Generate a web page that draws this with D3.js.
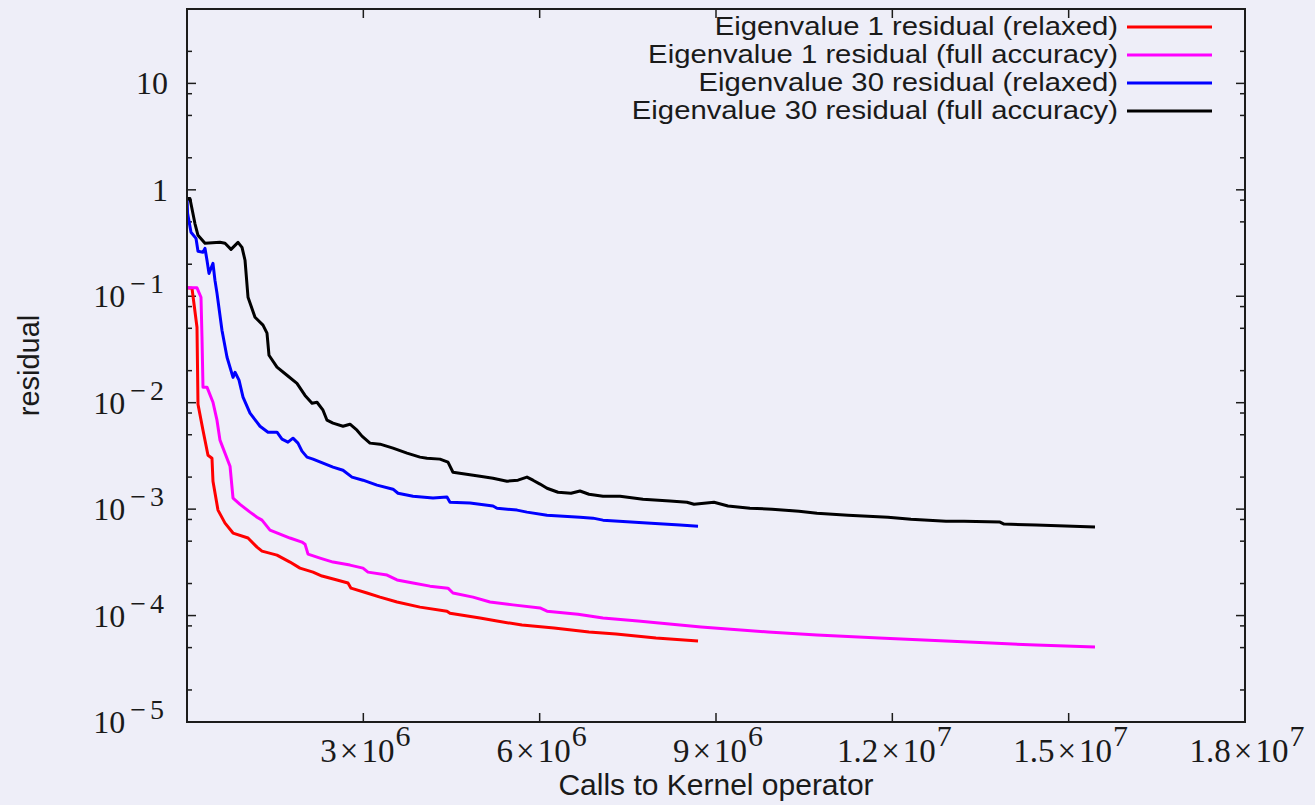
<!DOCTYPE html>
<html><head><meta charset="utf-8">
<script src="https://cdn.jsdelivr.net/npm/d3@7"></script>
<style>
html,body{margin:0;padding:0;background:#eeeef8;overflow:hidden;}
svg{display:block;}
</style></head><body>
<svg id="chart" width="1315" height="805"></svg>
<script>
// ---------- data ----------
const seriesNames = [
  "Eigenvalue 1 residual (relaxed)",
  "Eigenvalue 1 residual (full accuracy)",
  "Eigenvalue 30 residual (relaxed)",
  "Eigenvalue 30 residual (full accuracy)"
];
const seriesColors = ["#ff0000", "#ff00ff", "#0000ff", "#000000"];

// [calls to kernel operator, residual]
const eig1Relaxed = [
  [0, 0.12], [0.085e6, 0.119], [0.17e6, 0.0512], [0.187e6, 0.00968], [0.272e6, 0.00552],
  [0.357e6, 0.00321], [0.425e6, 0.00301], [0.442e6, 0.00183], [0.527e6, 0.000979],
  [0.647e6, 0.000739], [0.783e6, 0.000596], [1.038e6, 0.000535], [1.191e6, 0.00044],
  [1.276e6, 0.000403], [1.531e6, 0.00037], [1.752e6, 0.000318], [1.922e6, 0.000279],
  [2.144e6, 0.000256], [2.297e6, 0.000235], [2.552e6, 0.000216], [2.739e6, 0.000202],
  [2.79e6, 0.000181], [3.062e6, 0.000163], [3.284e6, 0.000149], [3.573e6, 0.000134],
  [3.964e6, 0.00012], [4.423e6, 0.00011], [4.474e6, 0.000105], [4.985e6, 0.0000947],
  [5.274e6, 0.0000888], [5.699e6, 0.0000814], [6.244e6, 0.0000764], [6.839e6, 0.00007],
  [7.299e6, 0.000067], [7.979e6, 0.0000615], [8.694e6, 0.0000576]
];
const eig1Full = [
  [0, 0.12], [0.17e6, 0.12], [0.238e6, 0.0979], [0.255e6, 0.0412], [0.272e6, 0.014],
  [0.34e6, 0.014], [0.442e6, 0.0101], [0.51e6, 0.00685], [0.561e6, 0.00445],
  [0.732e6, 0.00253], [0.783e6, 0.00127], [0.902e6, 0.00111], [1.072e6, 0.000937],
  [1.191e6, 0.00084], [1.276e6, 0.000788], [1.412e6, 0.000635], [1.582e6, 0.000582],
  [1.752e6, 0.000535], [1.956e6, 0.00049], [2.008e6, 0.000469], [2.059e6, 0.000378],
  [2.263e6, 0.000347], [2.484e6, 0.000318], [2.773e6, 0.000298], [2.994e6, 0.000279],
  [3.079e6, 0.000256], [3.403e6, 0.00024], [3.573e6, 0.000216], [3.845e6, 0.000202],
  [4.134e6, 0.000189], [4.44e6, 0.000181], [4.525e6, 0.000163], [4.866e6, 0.000149],
  [5.155e6, 0.000134], [5.546e6, 0.000126], [6.006e6, 0.000118], [6.125e6, 0.00011],
  [6.652e6, 0.000103], [7.077e6, 0.0000947], [7.673e6, 0.0000888], [8.745e6, 0.000078],
  [9.885e6, 0.00007], [10.718e6, 0.0000656], [11.773e6, 0.0000615], [12.913e6, 0.0000576],
  [13.678e6, 0.0000552], [14.444e6, 0.0000528], [15.448e6, 0.0000506]
];
const eig30Relaxed = [
  [0, 0.85], [0.01e6, 0.602], [0.068e6, 0.399], [0.153e6, 0.35], [0.187e6, 0.265],
  [0.272e6, 0.259], [0.306e6, 0.282], [0.34e6, 0.218], [0.374e6, 0.164], [0.442e6, 0.204],
  [0.476e6, 0.141], [0.51e6, 0.107], [0.595e6, 0.048], [0.681e6, 0.0267], [0.783e6, 0.0173],
  [0.817e6, 0.0193], [0.885e6, 0.0163], [0.953e6, 0.0113], [1.072e6, 0.00797],
  [1.242e6, 0.00601], [1.378e6, 0.00528], [1.531e6, 0.00528], [1.616e6, 0.00454],
  [1.718e6, 0.00426], [1.803e6, 0.00464], [1.888e6, 0.00417], [1.956e6, 0.00351],
  [2.042e6, 0.00308], [2.144e6, 0.00295], [2.314e6, 0.0027], [2.484e6, 0.00248],
  [2.654e6, 0.00232], [2.807e6, 0.002], [2.994e6, 0.00187], [3.232e6, 0.00168],
  [3.505e6, 0.00154], [3.59e6, 0.00141], [3.845e6, 0.00132], [4.185e6, 0.00127],
  [4.423e6, 0.0013], [4.474e6, 0.00116], [4.815e6, 0.00114], [5.206e6, 0.00107],
  [5.274e6, 0.00102], [5.614e6, 0.000979], [5.784e6, 0.000937], [6.125e6, 0.000878],
  [6.686e6, 0.00084], [6.907e6, 0.000823], [7.077e6, 0.000788], [7.826e6, 0.000739],
  [8.387e6, 0.000708], [8.694e6, 0.000692]
];
const eig30Full = [
  [0.005e6, 0.83], [0.05e6, 0.83], [0.136e6, 0.48], [0.187e6, 0.374], [0.306e6, 0.315],
  [0.561e6, 0.321], [0.647e6, 0.315], [0.749e6, 0.276], [0.868e6, 0.321], [0.936e6, 0.288],
  [0.987e6, 0.218], [1.038e6, 0.098], [1.157e6, 0.0635], [1.293e6, 0.0535], [1.361e6, 0.045],
  [1.395e6, 0.0279], [1.531e6, 0.0216], [1.701e6, 0.0181], [1.871e6, 0.0152],
  [2.008e6, 0.0117], [2.127e6, 0.00989], [2.212e6, 0.0101], [2.314e6, 0.0085],
  [2.382e6, 0.00685], [2.484e6, 0.00642], [2.654e6, 0.00601], [2.773e6, 0.00628],
  [2.892e6, 0.00552], [2.977e6, 0.00485], [3.113e6, 0.00417], [3.284e6, 0.00408],
  [3.505e6, 0.00374], [3.743e6, 0.00336], [3.964e6, 0.00308], [4.083e6, 0.00301],
  [4.304e6, 0.00295], [4.44e6, 0.00276], [4.525e6, 0.00222], [4.985e6, 0.00204],
  [5.206e6, 0.00195], [5.444e6, 0.00183], [5.631e6, 0.00187], [5.784e6, 0.002],
  [5.886e6, 0.00187], [6.006e6, 0.00172], [6.125e6, 0.00157], [6.312e6, 0.00144],
  [6.533e6, 0.00141], [6.686e6, 0.00148], [6.839e6, 0.00138], [7.077e6, 0.00132],
  [7.367e6, 0.00132], [7.758e6, 0.00124], [8.217e6, 0.00119], [8.506e6, 0.00116],
  [8.626e6, 0.00111], [8.966e6, 0.00116], [9.204e6, 0.00107], [9.578e6, 0.00102],
  [9.953e6, 0.001], [10.412e6, 0.000957], [10.718e6, 0.000917], [11.246e6, 0.000878],
  [11.926e6, 0.00084], [12.317e6, 0.000805], [12.913e6, 0.000771], [13.219e6, 0.000771],
  [13.832e6, 0.000755], [13.9e6, 0.000723], [14.444e6, 0.000708], [15.448e6, 0.000678]
];
const seriesData = [eig1Relaxed, eig1Full, eig30Relaxed, eig30Full];

const xDomain = [0, 1.8e7];
const yDomain = [1e-5, 50];
const xTickValues = [0, 3e6, 6e6, 9e6, 1.2e7, 1.5e7, 1.8e7];
const xTickMantissa = ["", "3", "6", "9", "1.2", "1.5", "1.8"];
const xTickPower = ["", "6", "6", "6", "7", "7", "7"];
const yTickValues = [1e-5, 1e-4, 1e-3, 1e-2, 1e-1, 1, 10];
const yTickBase = ["10", "10", "10", "10", "10", "1", "10"];
const yTickPower = ["\u22125", "\u22124", "\u22123", "\u22122", "\u22121", "", ""];
const yMinorFactors = [2, 5, 8];
const xAxisTitle = "Calls to Kernel operator";
const yAxisTitle = "residual";

// ---------- layout ----------
const W = 1315, H = 805;
const plot = {left: 187, right: 1245, top: 9, bottom: 722};
const svg = d3.select("#chart");
svg.append("rect").attr("width", W).attr("height", H).attr("fill", "#eeeef8");

const x = d3.scaleLinear().domain(xDomain).range([plot.left, plot.right]);
const y = d3.scaleLog().domain(yDomain).range([plot.bottom, plot.top]);

const axisColor = "#1c1c1c";
const serif = "'Liberation Serif', 'DejaVu Serif', serif";
const sans = "'Liberation Sans', 'DejaVu Sans', sans-serif";

// minor y ticks
const yMinor = [];
for (let k = -5; k <= 1; k++) {
  yMinorFactors.forEach(f => {
    const v = f * Math.pow(10, k);
    if (v > yDomain[0] && v < yDomain[1]) yMinor.push(v);
  });
}

const ticks = svg.append("g").attr("stroke", axisColor).attr("stroke-width", 1.5);
yTickValues.forEach(v => {
  ticks.append("line").attr("x1", plot.left).attr("x2", plot.left + 9).attr("y1", y(v)).attr("y2", y(v));
  ticks.append("line").attr("x1", plot.right).attr("x2", plot.right - 9).attr("y1", y(v)).attr("y2", y(v));
});
yMinor.forEach(v => {
  ticks.append("line").attr("x1", plot.left).attr("x2", plot.left + 5).attr("y1", y(v)).attr("y2", y(v));
  ticks.append("line").attr("x1", plot.right).attr("x2", plot.right - 5).attr("y1", y(v)).attr("y2", y(v));
});
xTickValues.forEach(v => {
  ticks.append("line").attr("x1", x(v)).attr("x2", x(v)).attr("y1", plot.bottom).attr("y2", plot.bottom - 9);
  ticks.append("line").attr("x1", x(v)).attr("x2", x(v)).attr("y1", plot.top).attr("y2", plot.top + 9);
});

// series lines
const line = d3.line().x(d => x(d[0])).y(d => y(d[1]));
svg.append("clipPath").attr("id", "plotclip").append("rect")
  .attr("x", plot.left).attr("y", plot.top)
  .attr("width", plot.right - plot.left).attr("height", plot.bottom - plot.top);
const lines = svg.append("g").attr("clip-path", "url(#plotclip)");
seriesData.forEach((data, i) => {
  lines.append("path").datum(data)
    .attr("d", line)
    .attr("fill", "none")
    .attr("stroke", seriesColors[i])
    .attr("stroke-width", 3)
    .attr("stroke-linejoin", "round");
});

// frame
svg.append("rect")
  .attr("x", plot.left).attr("y", plot.top)
  .attr("width", plot.right - plot.left).attr("height", plot.bottom - plot.top)
  .attr("fill", "none").attr("stroke", axisColor).attr("stroke-width", 2);

// y tick labels
yTickValues.forEach((v, i) => {
  const t = svg.append("text")
    .attr("x", plot.left - 19).attr("y", y(v) + 11)
    .attr("text-anchor", "end")
    .attr("font-family", serif).attr("font-size", 32).attr("fill", "#1a1a1a");
  t.append("tspan").text(yTickBase[i]);
  if (yTickPower[i]) {
    t.append("tspan").attr("dx", 5).attr("dy", -14).attr("font-size", 28)
      .attr("letter-spacing", 4).text(yTickPower[i]);
  }
});

// x tick labels
xTickValues.forEach((v, i) => {
  if (!xTickMantissa[i]) return;
  const t = svg.append("text")
    .attr("x", x(v) + 2).attr("y", 762)
    .attr("text-anchor", "middle")
    .attr("font-family", serif).attr("font-size", 33).attr("fill", "#1a1a1a");
  t.append("tspan").text(xTickMantissa[i]);
  t.append("tspan").attr("dx", 3).text("\u00d7");
  t.append("tspan").attr("dx", 3).text("10");
  t.append("tspan").attr("dx", 1).attr("dy", -16).attr("font-size", 30).text(xTickPower[i]);
});

// axis titles
svg.append("text")
  .attr("x", (plot.left + plot.right) / 2).attr("y", 795)
  .attr("text-anchor", "middle")
  .attr("font-family", sans).attr("font-size", 30).attr("fill", "#1a1a1a")
  .text(xAxisTitle);
svg.append("text")
  .attr("transform", `translate(39,${(plot.top + plot.bottom) / 2}) rotate(-90)`)
  .attr("text-anchor", "middle")
  .attr("font-family", sans).attr("font-size", 29).attr("fill", "#1a1a1a")
  .text(yAxisTitle);

// legend
const legend = svg.append("g");
seriesNames.forEach((name, i) => {
  const ly = 27 + i * 28;
  const t = legend.append("text")
    .attr("x", 1118).attr("y", ly + 8)
    .attr("text-anchor", "end")
    .attr("font-family", sans).attr("font-size", 25).attr("fill", "#1a1a1a")
    .text(name);
  const natural = t.node().getComputedTextLength();
  t.attr("textLength", natural * 1.17).attr("lengthAdjust", "spacingAndGlyphs");
  legend.append("line")
    .attr("x1", 1127).attr("x2", 1212).attr("y1", ly).attr("y2", ly)
    .attr("stroke", seriesColors[i]).attr("stroke-width", 3);
});
</script>
</body></html>
